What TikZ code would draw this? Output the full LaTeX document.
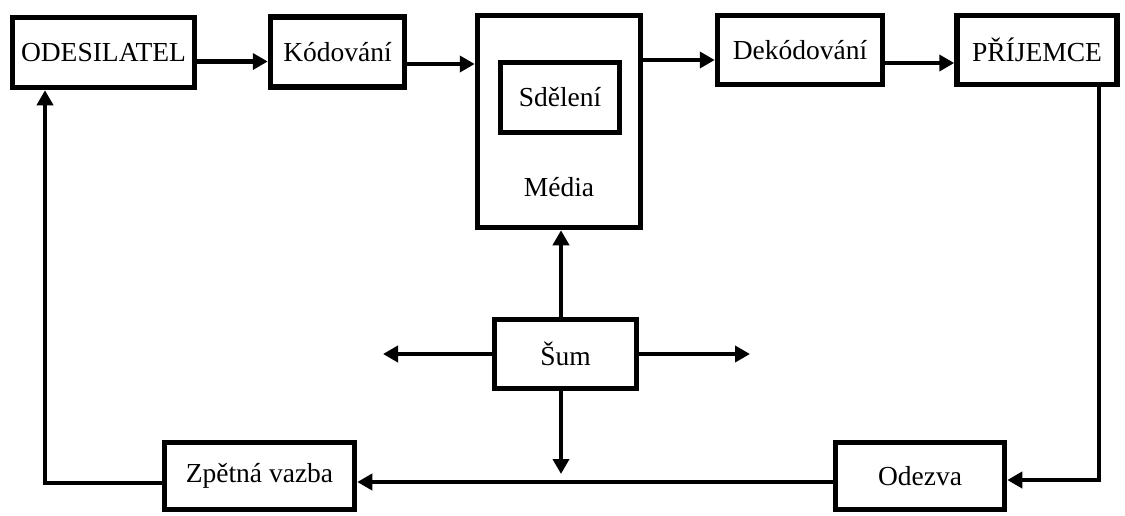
\documentclass[tikz,border=0pt]{standalone}
\usepackage{fontspec}
\setmainfont{Liberation Serif}
\usetikzlibrary{arrows.meta}
\begin{document}
\begin{tikzpicture}[x=1pt,y=-1pt,
  box/.style={draw,line width=5.5pt,inner sep=0pt,font=\fontsize{27.5}{32}\selectfont},
  lbl/.style={inner sep=0pt,font=\fontsize{27.5}{32}\selectfont},
  arr/.style={line width=4.5pt,-{Triangle[length=15pt,width=16pt]}},
  ln/.style={line width=4.5pt}]
\useasboundingbox (0,0) rectangle (1125,515);
\node[box,minimum width=182pt,minimum height=70pt] (od) at (103.5,52.5) {ODESILATEL};
\node[box,minimum width=134pt,minimum height=70pt] (kod) at (337.5,52) {Kódování};
\node[box,minimum width=163pt,minimum height=212pt] (media) at (559,121.5) {};
\node[box,minimum width=119pt,minimum height=70pt] (sde) at (560,97.5) {Sdělení};
\node[lbl] (mtext) at (559,187) {Média};
\node[box,minimum width=165pt,minimum height=69pt] (dek) at (800,50) {Dekódování};
\node[box,minimum width=160pt,minimum height=69pt] (pri) at (1037,50) {PŘÍJEMCE};
\node[box,minimum width=142pt,minimum height=69pt] (sum) at (565.5,354) {Šum};
\node[box,minimum width=190pt,minimum height=67pt] (zpet) at (259.5,476) {Zpětná vazba};
\node[box,minimum width=169pt,minimum height=67pt] (ode) at (920,476) {Odezva};
% top row
\coordinate (a1) at ([yshift=-9pt]od.east);
\draw[arr] (a1) -- (a1 -| kod.west);
\coordinate (k1) at ([yshift=-12pt]kod.east);
\draw[arr] (k1) -- (k1 -| media.west);
\coordinate (d1) at ([yshift=-10pt]dek.west);
\draw[arr] (d1 -| media.east) -- (d1);
\coordinate (d2) at ([yshift=-13pt]dek.east);
\draw[arr] (d2) -- (d2 -| pri.west);
% right loop
\coordinate (p1) at ([xshift=62pt]pri.south);
\coordinate (o1) at ([yshift=-4pt]ode.east);
\draw[arr] (p1) |- (o1);
\coordinate (o2) at ([yshift=-6pt]ode.west);
\draw[arr] (o2) -- (o2 -| zpet.east);
\coordinate (z1) at ([yshift=-7pt]zpet.west);
\coordinate (q1) at ([xshift=-58.5pt]od.south);
\draw[arr] (z1) -| (q1);
% noise
\coordinate (s1) at ([xshift=-4.5pt]sum.north);
\draw[arr] (s1) -- (s1 |- media.south);
\coordinate (lt) at (383,354);
\coordinate (rt) at (750,354);
\draw[arr] (sum.west) -- (lt);
\draw[arr] (sum.east) -- (rt);
\coordinate (s2) at ([xshift=-4.5pt]sum.south);
\coordinate (dn) at (561,474);
\draw[arr] (s2) -- (dn);
\end{tikzpicture}
\end{document}
